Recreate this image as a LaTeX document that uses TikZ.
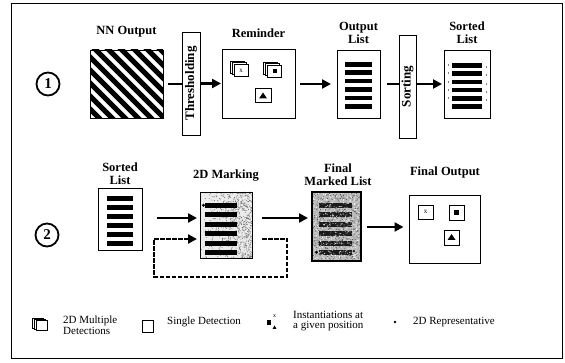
\documentclass[tikz,border=0pt]{standalone}
\usepackage{fontspec}
\setmainfont{Liberation Serif}
\usetikzlibrary{arrows.meta}
\begin{document}
\begin{tikzpicture}[x=1pt,y=-1pt,
  box/.style={draw, line width=0.8pt, inner sep=0pt, outer sep=0pt, fill=white},
  bar/.style={draw, line width=0.8pt, inner sep=0pt, outer sep=0pt, fill=white, minimum width=18pt, minimum height=103pt},
  lbl/.style={font=\bfseries\fontsize{12.5}{13}\selectfont, align=center, inner sep=0pt},
  barlbl/.style={font=\bfseries\fontsize{13}{13}\selectfont, rotate=90, inner sep=0pt},
  leg/.style={font=\fontsize{11}{10.5}\selectfont, align=left, anchor=west, inner sep=0pt},
  num/.style={draw, circle, line width=1.8pt, minimum size=23pt, inner sep=0pt, font=\bfseries\fontsize{15}{15}\selectfont},
  flow/.style={line width=2.8pt, -{Triangle[length=9pt,width=9pt]}},
  stub/.style={line width=2.8pt},
  feedback/.style={line width=2.8pt, dash pattern=on 4.5pt off 1.5pt, line join=miter, -{Triangle[length=9pt,width=9pt]}},
  item/.style={draw, line width=0.7pt, fill=white, inner sep=0pt, minimum width=15pt, minimum height=14pt},
  icon/.style={draw, line width=0.7pt, fill=white}
]

\useasboundingbox (0,0) rectangle (565,363);
\draw[line width=0.8pt] (11,3) rectangle (562,358);

% ---------- stage 1 ----------
\node[num] (one) at (48,84) {1};

% network output: striped square
\node[box, minimum width=73pt, minimum height=68pt] (nn) at (126.5,84) {};
\begin{scope}[shift={(nn.north west)}]
  \clip (0,0) rectangle (73,68);
  \foreach \k in {-5,...,8} \draw[line width=5pt] (\k*13-40,-20) -- (\k*13+80,100);
\end{scope}
\draw[line width=0.8pt] (nn.north west) rectangle (nn.south east);
\node[lbl] (nnlbl) at (126.5,32) {NN Output};

% thresholding step
\node[bar] (thr) at (191,83.5) {};
\node[barlbl] (thrtxt) at (thr) {Thresholding};

% reminder with detections
\node[box, minimum width=73pt, minimum height=69pt] (rem) at (258.5,83.5) {};
\node[lbl] (remlbl) at (258.5,33) {Reminder};
\begin{scope}[shift={(rem.north west)}]
  \foreach \d in {0,2,4} \draw[icon] (8+\d,12+0.8*\d) rectangle ++(14,12);
  \node[font=\fontsize{7}{7}\selectfont, inner sep=0pt] (remx) at (19,21.5) {x};
  \foreach \d in {0,2,4} \draw[icon] (41+\d,13+0.8*\d) rectangle ++(14,12);
  \fill (50.5,20.5) rectangle ++(4,4);
  \draw[icon] (33,39) rectangle ++(16,14);
  \fill (37,49.5) -- ++(8,0) -- ++(-4,-6) -- cycle;
\end{scope}

% output list
\node[box, minimum width=43pt, minimum height=68pt] (olist) at (358.5,84) {};
\node[lbl] (olistlbl) at (358.5,33) {Output\\List};
\begin{scope}[shift={(olist.north west)}]
  \foreach \i in {0,...,5} \fill (8,12+8.4*\i) rectangle ++(27,4.6);
\end{scope}

% sorting step
\node[bar, minimum width=17pt] (sort) at (407.5,86.5) {};
\node[barlbl] (sorttxt) at (sort) {Sorting};

% sorted list
\node[box, minimum width=46pt, minimum height=68pt] (slist) at (467,84) {};
\node[lbl] (slistlbl) at (467,33) {Sorted\\List};
\begin{scope}[shift={(slist.north west)}]
  \foreach \i in {0,...,5} \fill (8,13+8.3*\i) rectangle ++(30,4.6);
  \foreach \i in {0,...,4} \draw[line width=0.4pt, gray] (4,14+8.3*\i) -- ++(0,2) (42,16+8.3*\i) -- ++(0,2);
\end{scope}

% connectors of stage 1
\draw[stub, shorten <=5pt] (nn.east) -- (nn.east -| thr.west);
\draw[flow, shorten >=1pt] (thr.east |- rem.west) -- (rem.west);
\draw[flow, shorten <=5pt, shorten >=6pt] (rem.east |- olist.west) -- (olist.west);
\draw[stub, shorten <=7pt] (olist.east) -- (olist.east -| sort.west);
\draw[flow, shorten >=2pt] (sort.east |- slist.west) -- (slist.west);

% ---------- stage 2 ----------
\node[num] (two) at (47,235) {2};

\node[box, minimum width=44pt, minimum height=62pt] (slist2) at (120,219) {};
\node[lbl] (slist2lbl) at (120,174) {Sorted\\List};
\begin{scope}[shift={(slist2.north west)}]
  \foreach \i in {0,...,5} \fill (9,8+9*\i) rectangle ++(26,4.6);
\end{scope}

% 2D marking (partly stippled)
\node[box, fill=gray!15, minimum width=52pt, minimum height=66pt] (mark) at (226,225) {};
\node[lbl] (marklbl) at (226,176) {2D Marking};
\pgfmathsetseed{11}
\begin{scope}[shift={(mark.north west)}]
  \clip (0,0) rectangle (52,66);
  \foreach \k in {1,...,800}{
    \pgfmathsetmacro\rx{52*sqrt(rnd)}
    \pgfmathsetmacro\ry{66*rnd}
    \fill[black!60] (\rx,\ry) circle (0.45);
  }
  \foreach \i in {0,...,5} \fill (5,11+9.5*\i) rectangle ++(32,4.6);
  \fill (3.5,13.3) circle (1.6);
\end{scope}
\draw[line width=0.8pt] (mark.north west) rectangle (mark.south east);

% final marked list (fully stippled)
\node[box, fill=gray!55, minimum width=49pt, minimum height=69pt] (fmark) at (336.5,226.5) {};
\node[lbl] (fmarklbl) at (338,175) {Final\\Marked List};
\pgfmathsetseed{5}
\begin{scope}[shift={(fmark.north west)}]
  \clip (0,0) rectangle (49,69);
  \foreach \i in {0,...,5} \fill[black!90] (7,11+9.5*\i) rectangle ++(33,4.6);
  \foreach \k in {1,...,700}{
    \pgfmathsetmacro\rx{49*rnd}
    \pgfmathsetmacro\ry{69*rnd}
    \fill[white] (\rx,\ry) circle (0.45);
  }
  \foreach \k in {1,...,600}{
    \pgfmathsetmacro\rx{49*rnd}
    \pgfmathsetmacro\ry{69*rnd}
    \fill[black!75] (\rx,\ry) circle (0.45);
  }
  \fill (4.5,60.3) circle (1.6);
  \fill (42,59) circle (1.2);
\end{scope}
\draw[line width=1.1pt] (fmark.north west) rectangle (fmark.south east);

% final output
\node[box, minimum width=71pt, minimum height=68pt] (fout) at (445,229) {};
\node[lbl] (foutlbl) at (445,172) {Final Output};
\node[item] (fx) at (425.5,212) {\fontsize{7}{7}\selectfont x};
\node[item, minimum height=15pt] (fsq) at (456.5,212.5) {};
\fill (fsq) ++(-2.5,-2.5) rectangle ++(5,5);
\node[item, minimum height=15pt] (ftri) at (451.5,237.5) {};
\fill (ftri) ++(-4,2.5) -- ++(8,0) -- ++(-4,-6) -- cycle;

% connectors of stage 2
\draw[flow, shorten <=15pt, shorten >=3pt] (slist2.east |- 0,218) -- (mark.west |- 0,218);
\draw[flow, shorten <=10pt, shorten >=4pt] (mark.east |- 0,218) -- (fmark.west |- 0,218);
\draw[flow, shorten <=6pt, shorten >=6pt] (fmark.east |- 0,227) -- (fout.west |- 0,227);
\coordinate (c1) at (287,239);
\coordinate (c2) at (287,277);
\coordinate (c3) at (154,277);
\coordinate (c4) at (154,239);
\draw[feedback, shorten <=10pt, shorten >=3pt] (mark.east |- c1) -- (c1) -- (c2) -- (c3) -- (c4) -- (mark.west |- c4);

% ---------- legend ----------
\foreach \d in {0,2,4} \draw[icon] (32+\d,318+0.6*\d) rectangle ++(11,10);
\node[leg] (lg1) at (63,325) {2D Multiple\\Detections};
\draw[line width=0.7pt] (142,320) rectangle (153,332);
\node[leg] (lg2) at (167,322) {Single Detection};
\fill (266.5,320.5) rectangle (271,325);
\node[font=\fontsize{6}{6}\selectfont, inner sep=0pt] (lgx) at (274.5,316) {x};
\fill (272.5,329) -- ++(4,0) -- ++(-2,-3.5) -- cycle;
\node[leg] (lg3) at (293,321) {Instantiations at\\a given position};
\fill (395,322) circle (1.4);
\node[leg] (lg4) at (413,322) {2D Representative};

\end{tikzpicture}
\end{document}
